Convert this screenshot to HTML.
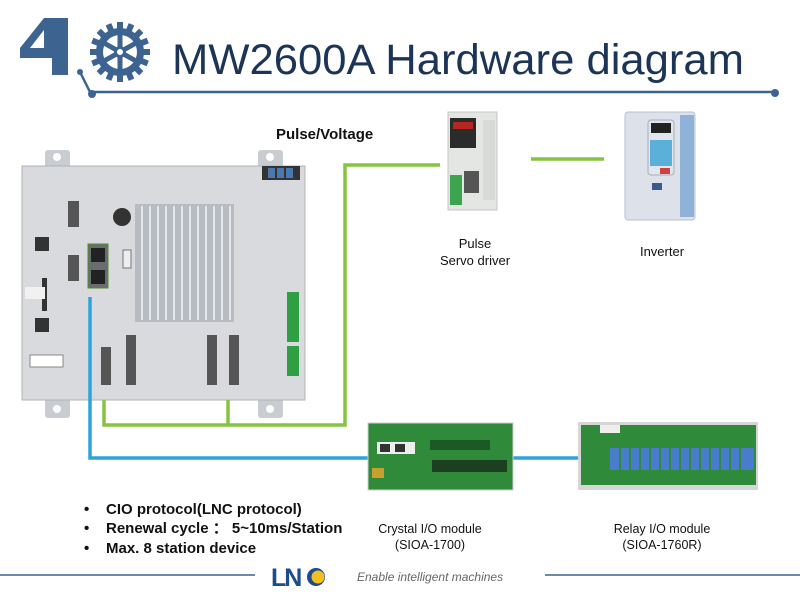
<!DOCTYPE html>
<html><head><meta charset="utf-8"><style>
html,body{margin:0;padding:0;background:#fff;}
body{width:800px;height:600px;overflow:hidden;position:relative;font-family:"Liberation Sans",sans-serif;}
svg{position:absolute;left:0;top:0;}
</style></head><body>
<svg width="800" height="600" viewBox="0 0 800 600" xmlns="http://www.w3.org/2000/svg">
<polygon points="44,18 68,18 68,75 52,75 52,58 20,58 20,48" fill="#3d6491"/>
<polygon points="44,30 44,48 30,48" fill="#fff"/>
<g transform="translate(120,52)" fill="#3d6491">
<circle r="24"/>
<g id="t"><rect x="-3" y="-30" width="6" height="8"/></g>
<use href="#t" transform="rotate(22.5)"/><use href="#t" transform="rotate(45)"/><use href="#t" transform="rotate(67.5)"/>
<use href="#t" transform="rotate(90)"/><use href="#t" transform="rotate(112.5)"/><use href="#t" transform="rotate(135)"/>
<use href="#t" transform="rotate(157.5)"/><use href="#t" transform="rotate(180)"/><use href="#t" transform="rotate(202.5)"/>
<use href="#t" transform="rotate(225)"/><use href="#t" transform="rotate(247.5)"/><use href="#t" transform="rotate(270)"/>
<use href="#t" transform="rotate(292.5)"/><use href="#t" transform="rotate(315)"/><use href="#t" transform="rotate(337.5)"/>
<circle r="17" fill="#fff"/>
<circle r="6"/>
<g stroke="#3d6491" stroke-width="5"><line x1="0" y1="-18" x2="0" y2="18"/><line x1="-16" y1="-9" x2="16" y2="9"/><line x1="-16" y1="9" x2="16" y2="-9"/></g>
<circle r="3" fill="#fff"/>
</g>
<polyline points="80,72 90,92 775,92" fill="none" stroke="#3d6491" stroke-width="2.5"/>
<circle cx="80" cy="72" r="3" fill="#3d6491"/>
<circle cx="92" cy="94" r="4" fill="#3d6491"/>
<circle cx="775" cy="93" r="4" fill="#3d6491"/>
<text x="172" y="74" font-size="43" fill="#1c3557" textLength="572" lengthAdjust="spacingAndGlyphs">MW2600A Hardware diagram</text>

<rect x="45" y="150" width="25" height="20" rx="3" fill="#c9ccd0"/>
<rect x="258" y="150" width="25" height="20" rx="3" fill="#c9ccd0"/>
<rect x="45" y="398" width="25" height="20" rx="3" fill="#c9ccd0"/>
<rect x="258" y="398" width="25" height="20" rx="3" fill="#c9ccd0"/>
<circle cx="57" cy="157" r="4" fill="#fff"/><circle cx="270" cy="157" r="4" fill="#fff"/>
<circle cx="57" cy="409" r="4" fill="#fff"/><circle cx="270" cy="409" r="4" fill="#fff"/>
<rect x="22" y="166" width="283" height="234" fill="#d8dadd" stroke="#b0b3b7"/>
<rect x="135" y="204" width="99" height="118" fill="#b7bcc3"/>
<g stroke="#e4e7ea" stroke-width="2">
<line x1="142" y1="206" x2="142" y2="320"/><line x1="150" y1="206" x2="150" y2="320"/><line x1="158" y1="206" x2="158" y2="320"/><line x1="166" y1="206" x2="166" y2="320"/><line x1="174" y1="206" x2="174" y2="320"/><line x1="182" y1="206" x2="182" y2="320"/><line x1="190" y1="206" x2="190" y2="320"/><line x1="198" y1="206" x2="198" y2="320"/><line x1="206" y1="206" x2="206" y2="320"/><line x1="214" y1="206" x2="214" y2="320"/><line x1="222" y1="206" x2="222" y2="320"/><line x1="230" y1="206" x2="230" y2="320"/>
</g>
<rect x="262" y="166" width="38" height="14" fill="#333"/>
<rect x="268" y="168" width="7" height="10" fill="#4a78b0"/><rect x="277" y="168" width="7" height="10" fill="#4a78b0"/><rect x="286" y="168" width="7" height="10" fill="#4a78b0"/>
<circle cx="122" cy="217" r="9" fill="#333"/>
<rect x="68" y="201" width="11" height="26" fill="#555"/>
<rect x="68" y="255" width="11" height="26" fill="#555"/>
<rect x="88" y="244" width="20" height="44" fill="#6a6d70" stroke="#4f8f2a"/>
<rect x="91" y="248" width="14" height="14" fill="#222"/><rect x="91" y="270" width="14" height="14" fill="#222"/>
<rect x="123" y="250" width="8" height="18" fill="#eee" stroke="#777"/>
<rect x="35" y="237" width="14" height="14" fill="#333"/><rect x="35" y="318" width="14" height="14" fill="#333"/>
<rect x="42" y="278" width="5" height="33" fill="#333"/>
<rect x="25" y="287" width="20" height="12" fill="#f1f1f1"/>
<rect x="30" y="355" width="33" height="12" fill="#fff" stroke="#888"/>
<rect x="101" y="347" width="10" height="38" fill="#555"/>
<rect x="126" y="335" width="10" height="50" fill="#555"/>
<rect x="207" y="335" width="10" height="50" fill="#555"/>
<rect x="229" y="335" width="10" height="50" fill="#555"/>
<rect x="287" y="292" width="12" height="50" fill="#2ea043"/>
<rect x="287" y="346" width="12" height="30" fill="#2ea043"/>

<g fill="none" stroke="#86c440" stroke-width="3.5">
<polyline points="104,400 104,425 345,425 345,165 440,165"/>
<line x1="228" y1="400" x2="228" y2="425"/>
<line x1="531" y1="159" x2="604" y2="159"/>
</g>
<polyline points="90,297 90,458 578,458" fill="none" stroke="#2aa4dd" stroke-width="3.5"/>

<rect x="448" y="112" width="49" height="98" fill="#e4e6e4" stroke="#c4c7c4"/>
<rect x="450" y="118" width="26" height="30" fill="#2b2b2b"/>
<rect x="453" y="122" width="20" height="7" fill="#b5271f"/>
<rect x="464" y="171" width="15" height="22" fill="#555"/>
<rect x="450" y="175" width="12" height="30" fill="#3da550"/>
<rect x="483" y="120" width="12" height="80" fill="#d8dad8"/>
<rect x="625" y="112" width="70" height="108" rx="3" fill="#dde2ea" stroke="#b8c0cc"/>
<rect x="680" y="115" width="14" height="102" fill="#8fb3d8"/>
<rect x="648" y="120" width="26" height="55" rx="3" fill="#dfe6ee" stroke="#aab"/>
<rect x="651" y="123" width="20" height="10" fill="#222"/>
<rect x="650" y="140" width="22" height="26" fill="#5ab0d8"/>
<rect x="660" y="168" width="10" height="6" fill="#d04040"/>
<rect x="652" y="183" width="10" height="7" fill="#3b5a8a"/>

<rect x="368" y="423" width="145" height="67" fill="#2f8a3a" stroke="#ccc"/>
<rect x="377" y="442" width="38" height="12" fill="#eee"/>
<rect x="380" y="444" width="10" height="8" fill="#333"/><rect x="395" y="444" width="10" height="8" fill="#333"/>
<rect x="430" y="440" width="60" height="10" fill="#1c5a25"/>
<rect x="432" y="460" width="75" height="12" fill="#1b3f20"/>
<rect x="372" y="468" width="12" height="10" fill="#c8a030"/>
<rect x="578" y="422" width="180" height="68" fill="#d6d6d6"/>
<rect x="581" y="425" width="175" height="60" fill="#2f8a3a"/>
<rect x="610" y="448" width="144" height="22" fill="#4a7ccc"/>
<g stroke="#2f8a3a" stroke-width="2"><line x1="620" y1="448" x2="620" y2="470"/><line x1="630" y1="448" x2="630" y2="470"/><line x1="640" y1="448" x2="640" y2="470"/><line x1="650" y1="448" x2="650" y2="470"/><line x1="660" y1="448" x2="660" y2="470"/><line x1="670" y1="448" x2="670" y2="470"/><line x1="680" y1="448" x2="680" y2="470"/><line x1="690" y1="448" x2="690" y2="470"/><line x1="700" y1="448" x2="700" y2="470"/><line x1="710" y1="448" x2="710" y2="470"/><line x1="720" y1="448" x2="720" y2="470"/><line x1="730" y1="448" x2="730" y2="470"/><line x1="740" y1="448" x2="740" y2="470"/></g>
<rect x="600" y="425" width="20" height="8" fill="#eee"/>

<text x="276" y="139" font-size="15" font-weight="bold" fill="#111">Pulse/Voltage</text>
<text x="475" y="248" font-size="13" fill="#111" text-anchor="middle">Pulse</text>
<text x="475" y="265" font-size="13" fill="#111" text-anchor="middle">Servo driver</text>
<text x="662" y="256" font-size="13" fill="#111" text-anchor="middle">Inverter</text>
<g font-size="15" font-weight="bold" fill="#111">
<text x="84" y="514">•</text><text x="106" y="514">CIO protocol(LNC protocol)</text>
<text x="84" y="533">•</text><text x="106" y="533">Renewal cycle ： 5~10ms/Station</text>
<text x="84" y="553">•</text><text x="106" y="553">Max. 8 station device</text>
</g>
<text x="430" y="533" font-size="12.5" fill="#111" text-anchor="middle">Crystal I/O module</text>
<text x="430" y="549" font-size="12.5" fill="#111" text-anchor="middle">(SIOA-1700)</text>
<text x="662" y="533" font-size="12.5" fill="#111" text-anchor="middle">Relay I/O module</text>
<text x="662" y="549" font-size="12.5" fill="#111" text-anchor="middle">(SIOA-1760R)</text>

<line x1="0" y1="575" x2="255" y2="575" stroke="#3d6491" stroke-width="1.5"/>
<line x1="545" y1="575" x2="800" y2="575" stroke="#3d6491" stroke-width="1.5"/>
<text x="271" y="586" font-size="25" font-weight="bold" fill="#1d4b8c" letter-spacing="-2">LN</text>
<circle cx="316" cy="577" r="9" fill="#1d4b8c"/>
<circle cx="318" cy="577" r="6.5" fill="#f0c020"/>
<text x="357" y="581" font-size="12" font-style="italic" fill="#666">Enable  intelligent  machines</text>
</svg>
</body></html>
